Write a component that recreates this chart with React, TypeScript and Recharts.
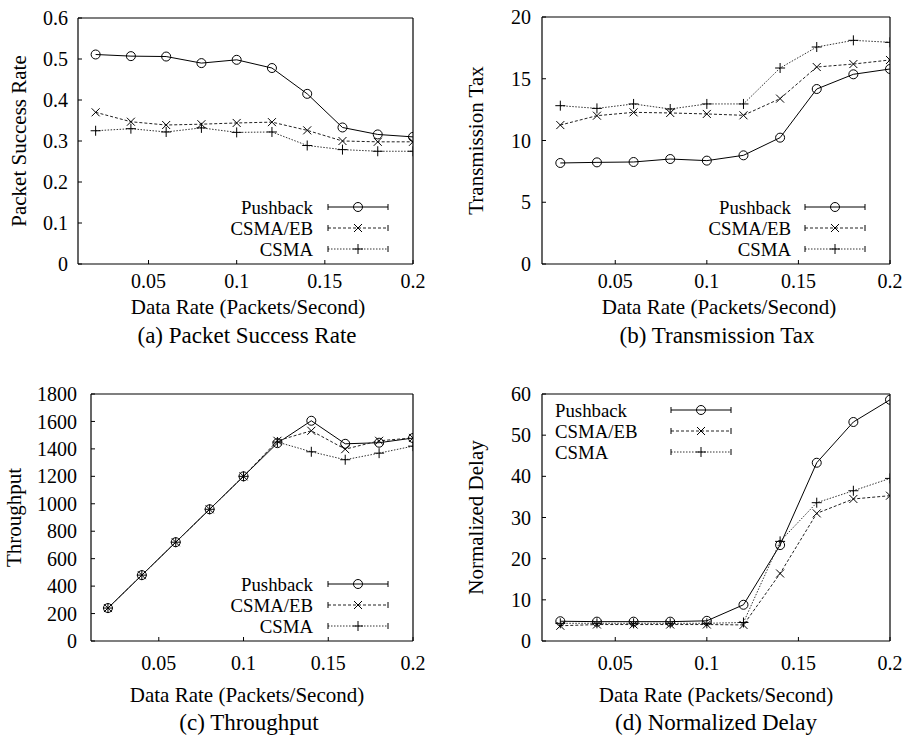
import React from 'react';
import { LineChart, Line, XAxis, YAxis, Legend } from 'recharts';

const FONT = '"Liberation Serif", "Times New Roman", serif';

// x values shared by all four panels
const dataRate = [0.02, 0.04, 0.06, 0.08, 0.1, 0.12, 0.14, 0.16, 0.18, 0.2];
const rateTicks = [0.05, 0.1, 0.15, 0.2];

// (a) packet success rate
const psrPushback = [0.511, 0.507, 0.506, 0.49, 0.498, 0.478, 0.415, 0.333, 0.316, 0.31];
const psrCsmaEb = [0.37, 0.347, 0.339, 0.341, 0.344, 0.346, 0.326, 0.3, 0.298, 0.298];
const psrCsma = [0.325, 0.33, 0.322, 0.332, 0.321, 0.322, 0.289, 0.279, 0.275, 0.275];
const psrTicks = [0, 0.1, 0.2, 0.3, 0.4, 0.5, 0.6];

// (b) transmission tax
const taxPushback = [8.18, 8.23, 8.26, 8.5, 8.37, 8.8, 10.23, 14.17, 15.36, 15.79];
const taxCsmaEb = [11.25, 12.01, 12.28, 12.23, 12.15, 12.04, 13.39, 15.95, 16.19, 16.52];
const taxCsma = [12.82, 12.6, 12.96, 12.55, 12.96, 12.96, 15.87, 17.57, 18.11, 17.95];
const taxTicks = [0, 5, 10, 15, 20];

// (c) throughput
const thrPushback = [240, 480, 720, 960, 1200, 1442, 1605, 1437, 1445, 1479];
const thrCsmaEb = [240, 480, 720, 960, 1200, 1459, 1532, 1398, 1459, 1480];
const thrCsma = [240, 480, 720, 960, 1200, 1450, 1379, 1321, 1369, 1420];
const thrTicks = [0, 200, 400, 600, 800, 1000, 1200, 1400, 1600, 1800];

// (d) normalized delay
const delayPushback = [4.8, 4.7, 4.7, 4.7, 4.9, 8.8, 23.3, 43.3, 53.2, 58.6];
const delayCsmaEb = [3.7, 4.0, 4.0, 4.0, 4.0, 3.9, 16.4, 31.0, 34.5, 35.3];
const delayCsma = [4.3, 4.3, 4.3, 4.3, 4.3, 4.5, 24.2, 33.6, 36.5, 39.5];
const delayTicks = [0, 10, 20, 30, 40, 50, 60];

type MarkerKind = 'circle' | 'cross' | 'plus';

const SERIES: { key: string; name: string; stroke: string; dash?: string; marker: MarkerKind }[] = [
  { key: 'pushback', name: 'Pushback', stroke: '#000', marker: 'circle' },
  { key: 'csmaEb', name: 'CSMA/EB', stroke: '#222', dash: '3 2', marker: 'cross' },
  { key: 'csma', name: 'CSMA', stroke: '#333', dash: '1.5 1.5', marker: 'plus' },
];

function buildRows(pushback: number[], csmaEb: number[], csma: number[]) {
  return dataRate.map((rate, i) => ({ rate, pushback: pushback[i], csmaEb: csmaEb[i], csma: csma[i] }));
}

function Marker({ kind, cx, cy }: { kind: MarkerKind; cx: number; cy: number }) {
  if (kind === 'circle') {
    return <circle cx={cx} cy={cy} r={4.5} fill="none" stroke="#000" strokeWidth={1} />;
  }
  if (kind === 'cross') {
    return (
      <path
        d={`M${cx - 4},${cy - 4}L${cx + 4},${cy + 4}M${cx - 4},${cy + 4}L${cx + 4},${cy - 4}`}
        stroke="#000"
        strokeWidth={1}
      />
    );
  }
  return (
    <path
      d={`M${cx - 5},${cy}L${cx + 5},${cy}M${cx},${cy - 5}L${cx},${cy + 5}`}
      stroke="#000"
      strokeWidth={1}
    />
  );
}

interface LegendSpec {
  align: 'left' | 'right';
  textX: number;
  x0: number;
  x1: number;
  rows: number[];
}

interface PanelProps {
  left: number;
  top: number;
  width: number;
  height: number;
  plot: { l: number; t: number; r: number; b: number };
  rows: ReturnType<typeof buildRows>;
  yDomain: [number, number];
  yTicks: number[];
  yLabel: string;
  yLabelX: number;
  xLabelX: number;
  xLabelY: number;
  caption: string;
  captionX: number;
  captionY: number;
  xTickMargin: number;
  yTickMargin: number;
  legend: LegendSpec;
}

const tickStyle = { fill: '#000', fontSize: 20, fontFamily: FONT };
const axisLine = { stroke: '#000', strokeWidth: 1.2 };
const tickLine = { stroke: '#000', strokeWidth: 1 };

function Panel(p: PanelProps) {
  const { width, height, plot, legend } = p;

  const renderLegend = () => (
    <svg width={width} height={height} style={{ display: 'block' }}>
      {SERIES.map((s, i) => {
        const y = legend.rows[i];
        const mid = (legend.x0 + legend.x1) / 2;
        return (
          <g key={s.key}>
            <text
              x={legend.textX}
              y={y + 7}
              textAnchor={legend.align === 'right' ? 'end' : 'start'}
              fontFamily={FONT}
              fontSize={18.8}
              fill="#000"
            >
              {s.name}
            </text>
            <line x1={legend.x0} x2={legend.x1} y1={y} y2={y} stroke={s.stroke} strokeDasharray={s.dash} />
            <line x1={legend.x0} x2={legend.x0} y1={y - 3} y2={y + 3} stroke="#000" />
            <line x1={legend.x1} x2={legend.x1} y1={y - 3} y2={y + 3} stroke="#000" />
            <Marker kind={s.marker} cx={mid} cy={y} />
          </g>
        );
      })}
    </svg>
  );

  const xLabel = () => (
    <g>
      <text x={p.xLabelX} y={p.xLabelY} textAnchor="middle" fontFamily={FONT} fontSize={21} fill="#000">
        Data Rate (Packets/Second)
      </text>
      <text x={p.captionX} y={p.captionY} textAnchor="middle" fontFamily={FONT} fontSize={23} fill="#000">
        {p.caption}
      </text>
    </g>
  );

  const yLabel = (props: any) => {
    const cy = props.viewBox ? props.viewBox.y + props.viewBox.height / 2 : (plot.t + plot.b) / 2;
    return (
      <text
        x={p.yLabelX}
        y={cy}
        transform={`rotate(-90, ${p.yLabelX}, ${cy})`}
        textAnchor="middle"
        fontFamily={FONT}
        fontSize={21}
        fill="#000"
      >
        {p.yLabel}
      </text>
    );
  };

  return (
    <div style={{ position: 'absolute', left: p.left, top: p.top, width, height }}>
      <LineChart
        width={width}
        height={height}
        data={p.rows}
        margin={{ top: plot.t - 1, right: width - plot.r - 1, bottom: 0, left: 0 }}
      >
        <XAxis
          dataKey="rate"
          type="number"
          domain={[0.01, 0.2]}
          ticks={rateTicks}
          interval={0}
          allowDataOverflow
          height={height - plot.b}
          tick={tickStyle}
          tickSize={-4}
          tickMargin={p.xTickMargin}
          axisLine={axisLine}
          tickLine={tickLine}
          label={xLabel}
        />
        <XAxis
          xAxisId="top"
          orientation="top"
          type="number"
          domain={[0.01, 0.2]}
          ticks={rateTicks}
          interval={0}
          allowDataOverflow
          height={1}
          tick={false}
          tickSize={-4}
          axisLine={axisLine}
          tickLine={tickLine}
        />
        <YAxis
          type="number"
          domain={p.yDomain}
          ticks={p.yTicks}
          interval={0}
          allowDataOverflow
          width={plot.l}
          tick={tickStyle}
          tickSize={-4}
          tickMargin={p.yTickMargin}
          axisLine={axisLine}
          tickLine={tickLine}
          label={yLabel}
        />
        <YAxis
          yAxisId="right"
          orientation="right"
          type="number"
          domain={p.yDomain}
          ticks={p.yTicks}
          interval={0}
          allowDataOverflow
          width={1}
          tick={false}
          tickSize={-4}
          axisLine={axisLine}
          tickLine={tickLine}
        />
        <Legend
          layout="vertical"
          align="center"
          verticalAlign="middle"
          content={renderLegend}
          wrapperStyle={{ position: 'absolute', left: 0, top: 0, width, height, pointerEvents: 'none' }}
        />
        {SERIES.map((s) => (
          <Line
            key={s.key}
            dataKey={s.key}
            name={s.name}
            type="linear"
            stroke={s.stroke}
            strokeWidth={1}
            strokeDasharray={s.dash}
            isAnimationActive={false}
            dot={(d: any) => <Marker key={`${s.key}-${d.index}`} kind={s.marker} cx={d.cx} cy={d.cy} />}
            activeDot={false}
          />
        ))}
      </LineChart>
    </div>
  );
}

export default function App() {
  return (
    <div style={{ position: 'absolute', left: 0, top: 0, width: 908, height: 735, background: '#fff' }}>
      <Panel
        left={0}
        top={0}
        width={454}
        height={360}
        plot={{ l: 78, t: 18, r: 413, b: 264 }}
        rows={buildRows(psrPushback, psrCsmaEb, psrCsma)}
        yDomain={[0, 0.6]}
        yTicks={psrTicks}
        yLabel="Packet Success Rate"
        yLabelX={26}
        xLabelX={248}
        xLabelY={314}
        caption="(a) Packet Success Rate"
        captionX={247}
        captionY={343}
        xTickMargin={13.6}
        yTickMargin={14}
        legend={{ align: 'right', textX: 313, x0: 328, x1: 388, rows: [207, 228, 249] }}
      />
      <Panel
        left={454}
        top={0}
        width={454}
        height={360}
        plot={{ l: 88, t: 17, r: 436, b: 264 }}
        rows={buildRows(taxPushback, taxCsmaEb, taxCsma)}
        yDomain={[0, 20]}
        yTicks={taxTicks}
        yLabel="Transmission Tax"
        yLabelX={29}
        xLabelX={265}
        xLabelY={314}
        caption="(b) Transmission Tax"
        captionX={263}
        captionY={343}
        xTickMargin={13.6}
        yTickMargin={15}
        legend={{ align: 'right', textX: 337, x0: 351, x1: 411, rows: [207, 228, 249] }}
      />
      <Panel
        left={0}
        top={360}
        width={454}
        height={375}
        plot={{ l: 91, t: 34, r: 413, b: 281 }}
        rows={buildRows(thrPushback, thrCsmaEb, thrCsma)}
        yDomain={[0, 1800]}
        yTicks={thrTicks}
        yLabel="Throughput"
        yLabelX={21}
        xLabelX={247}
        xLabelY={342}
        caption="(c) Throughput"
        captionX={249}
        captionY={370}
        xTickMargin={18.6}
        yTickMargin={18}
        legend={{ align: 'right', textX: 313, x0: 328, x1: 388, rows: [224, 245, 266] }}
      />
      <Panel
        left={454}
        top={360}
        width={454}
        height={375}
        plot={{ l: 88, t: 34, r: 436, b: 281 }}
        rows={buildRows(delayPushback, delayCsmaEb, delayCsma)}
        yDomain={[0, 60]}
        yTicks={delayTicks}
        yLabel="Normalized Delay"
        yLabelX={29}
        xLabelX={262}
        xLabelY={342}
        caption="(d) Normalized Delay"
        captionX={262}
        captionY={370}
        xTickMargin={18.6}
        yTickMargin={15}
        legend={{ align: 'left', textX: 101, x0: 217, x1: 277, rows: [50, 71, 92] }}
      />
    </div>
  );
}
